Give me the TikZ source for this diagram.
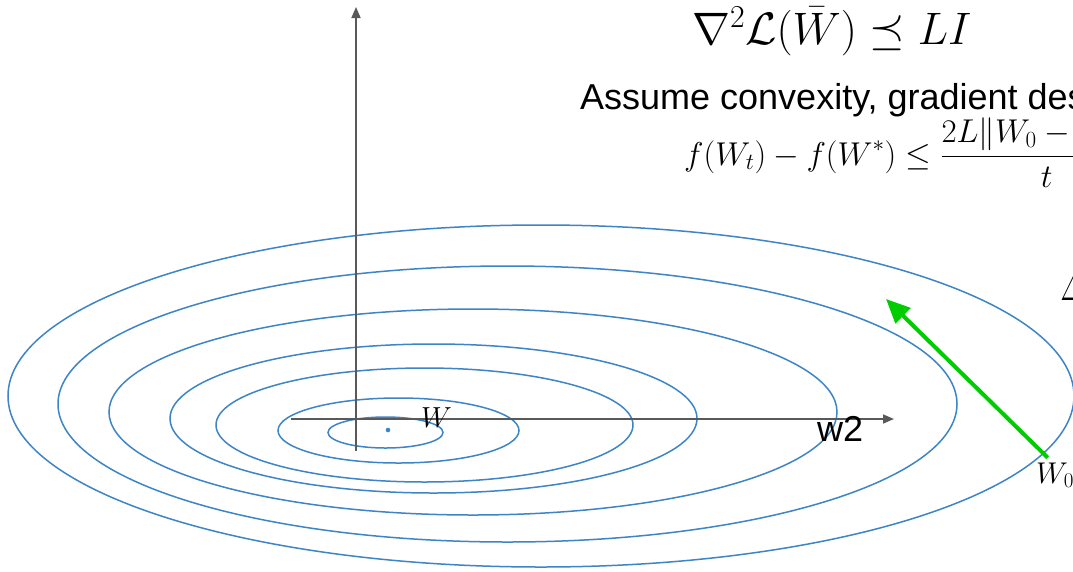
\RequirePackage{fix-cm}
\documentclass[tikz,border=0pt]{standalone}
\usepackage{amsmath}
\usepackage{fontspec}
\newfontfamily\arialfont{Liberation Sans}
\usetikzlibrary{arrows.meta}
\definecolor{contour}{RGB}{61,133,198}
\definecolor{axisgray}{RGB}{89,89,89}
\definecolor{stepgreen}{RGB}{0,205,0}
\begin{document}
\begin{tikzpicture}[x=1pt,y=-1pt,
  contourline/.style={draw=contour,line width=1.5pt},
  axisline/.style={draw=axisgray,line width=1.6pt,-{Triangle[length=11pt,width=9pt]}},
  gradarrow/.style={draw=stepgreen,line width=4pt,-{Triangle[length=24pt,width=21pt]},shorten <=-1pt},
  lbl/.style={inner sep=0pt,anchor=base west},
]
\useasboundingbox (0,0) rectangle (1073,571);
\clip (0,0) rectangle (1073,571);
\fill[white] (0,0) rectangle (1073,571);

% contour ellipses
\draw[contourline] (541,396) ellipse [x radius=533pt, y radius=171pt];
\draw[contourline] (507.5,404) ellipse [x radius=449.5pt, y radius=138pt];
\draw[contourline] (473,412) ellipse [x radius=364pt, y radius=103pt];
\draw[contourline] (433.5,418.5) ellipse [x radius=263.5pt, y radius=74.5pt];
\draw[contourline] (424.5,425) ellipse [x radius=208.5pt, y radius=57pt];
\draw[contourline] (398.5,430.5) ellipse [x radius=120.5pt, y radius=32.5pt];
\draw[contourline] (385.5,432.5) ellipse [x radius=57.5pt, y radius=15.5pt];
\fill[contour] (388,430) circle (2.3pt);

% axes
\coordinate (hstart) at (291,419);
\coordinate (hend) at (894,419);
\coordinate (vstart) at (356,451);
\coordinate (vend) at (356,7);
\draw[axisline] (hstart) -- (hend);
\draw[axisline] (vstart) -- (vend);

% labels
\node[lbl] (wlabel) at (421,427) {\fontsize{29}{34}\selectfont $W$};
\node[lbl] (w2) at (817,441) {\arialfont\fontsize{36}{42}\selectfont w2};
\node[lbl] (w0label) at (1036,483) {\fontsize{30}{35}\selectfont $W_0$};
\node[lbl] (delta) at (1060,300) {\fontsize{44}{50}\selectfont $\Delta$};

\node[lbl] (title) at (692,44) {\fontsize{45.5}{52}\selectfont $\nabla^2\mathcal{L}(\bar{W}) \preceq LI$};
\node[lbl] (assume) at (580,109) {\arialfont\fontsize{36}{42}\selectfont Assume convexity, gradient descent};
\node[lbl] (bound) at (684,165) {\fontsize{33}{38}\selectfont $\displaystyle f(W_t) - f(W^*) \le \frac{2L\|W_0 - W^*\|_2^2}{t}$};

% gradient step
\coordinate (w0) at (1047,457);
\coordinate (steptip) at (886,299);
\draw[gradarrow] (w0) -- (steptip);
\end{tikzpicture}
\end{document}
